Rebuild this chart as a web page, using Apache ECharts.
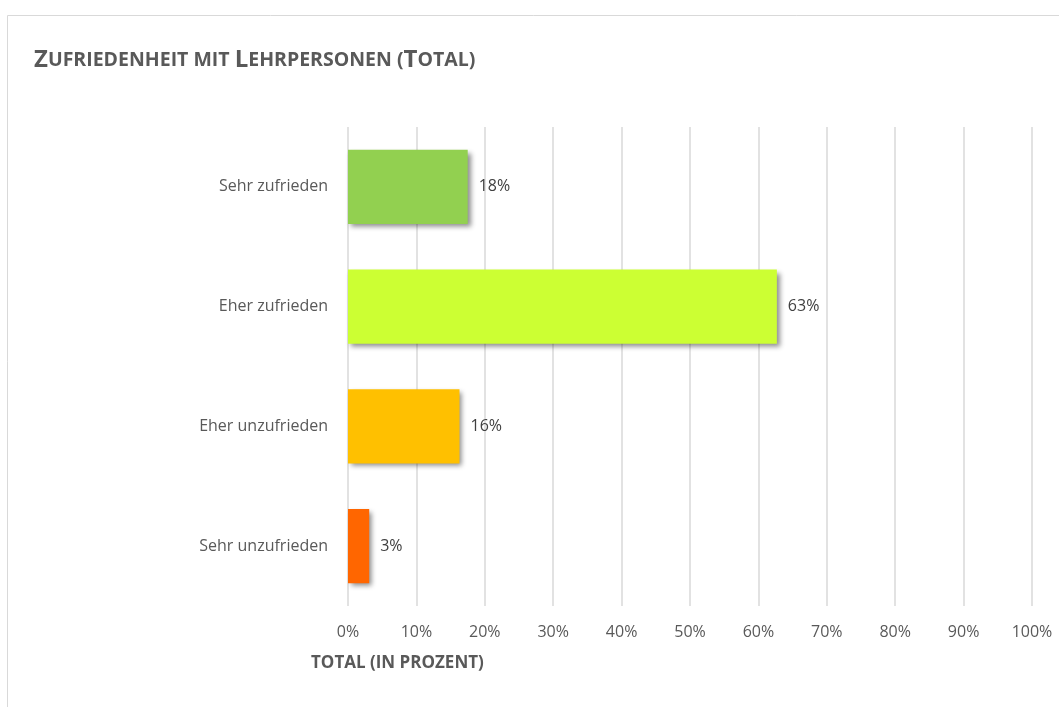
<!DOCTYPE html>
<html>
<head>
<meta charset="utf-8">
<script src="https://cdn.jsdelivr.net/npm/echarts@6/dist/echarts.min.js"></script>
<style>
  html, body { margin: 0; padding: 0; background: #fff; }
  #chart { width: 1059px; height: 707px; }
</style>
</head>
<body>
<div id="chart"></div>
<script>
// categories top to bottom
var categories = ['Sehr zufrieden', 'Eher zufrieden', 'Eher unzufrieden', 'Sehr unzufrieden'];
var values = [17.5, 62.7, 16.3, 3.1];
var colors = ['#92D050', '#CCFF33', '#FFC000', '#FF6600'];
var tickLabels = ['0%', '10%', '20%', '30%', '40%', '50%', '60%', '70%', '80%', '90%', '100%'];

var font = '"Open Sans", sans-serif';

var barData = values.map(function (v, i) {
  return { value: v, itemStyle: { color: colors[i] } };
});

var chart = echarts.init(document.getElementById('chart'));
chart.setOption({
  animation: false,
  textStyle: { fontFamily: font },
  graphic: [{
    type: 'rect',
    left: 5, top: 13,
    shape: { width: 1200, height: 800 },
    style: { fill: 'none', stroke: '#d9d9d9', lineWidth: 1 },
    silent: true
  }],
  title: [{
    left: 29, top: 43,
    text: '{b|Z}{s|UFRIEDENHEIT MIT }{b|L}{s|EHRPERSONEN (}{b|T}{s|OTAL)}',
    textStyle: {
      rich: {
        b: { fontSize: 24, fontWeight: 'bold', color: '#595959', fontFamily: font },
        s: { fontSize: 19.5, fontWeight: 'bold', color: '#595959', fontFamily: font }
      }
    }
  }, {
    left: 306, top: 650,
    text: 'TOTAL (IN PROZENT)',
    textStyle: { fontSize: 17, fontWeight: 'bold', color: '#595959', fontFamily: font }
  }],
  grid: { left: 348, right: 27, top: 127, bottom: 101, containLabel: false },
  xAxis: {
    type: 'value',
    min: 0, max: 100, interval: 10,
    axisLine: { show: false },
    axisTick: { show: false },
    splitLine: { lineStyle: { color: '#d9d9d9', width: 1.5 } },
    axisLabel: {
      color: '#595959', fontSize: 16, margin: 18,
      formatter: function (v) { return tickLabels[Math.round(v / 10)]; }
    }
  },
  yAxis: {
    type: 'category',
    inverse: true,
    data: categories,
    axisLine: { show: false },
    axisTick: { show: false },
    axisLabel: { color: '#595959', fontSize: 16, margin: 20 }
  },
  series: [{
    type: 'bar',
    data: barData,
    barWidth: '62%',
    itemStyle: {
      shadowColor: 'rgba(0,0,0,0.45)',
      shadowBlur: 5,
      shadowOffsetX: 3,
      shadowOffsetY: 3
    },
    label: {
      show: true,
      position: 'right',
      distance: 11,
      color: '#404040',
      fontSize: 16,
      formatter: function (p) { return Math.round(p.value) + '%'; }
    }
  }]
});
</script>
</body>
</html>
